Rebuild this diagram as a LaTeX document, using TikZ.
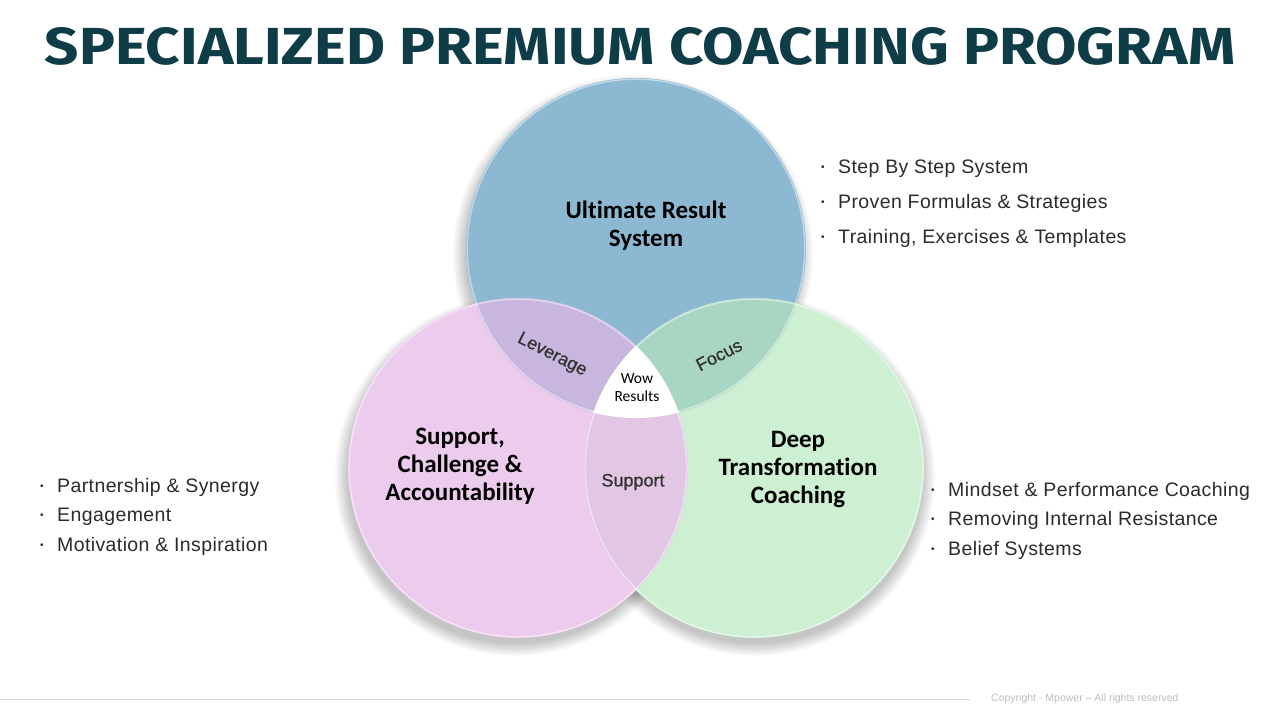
\documentclass[tikz,border=0pt]{standalone}
\usepackage{fontspec}
\usetikzlibrary{calc}
\setmainfont{Liberation Sans}
\newfontfamily\calf{Carlito}[Ligatures=NoCommon]
\newfontfamily\titlef{Fira Sans}
\newfontfamily\bulf{Liberation Sans}[LetterSpace=2]
\newfontfamily\ovf{Liberation Sans}[FakeBold=0.8]
\definecolor{titlecol}{HTML}{0F3D47}
\definecolor{cblue}{HTML}{8DB8D1}
\definecolor{cpink}{HTML}{ECCBEC}
\definecolor{cgreen}{HTML}{CDEFD2}
\definecolor{ovTL}{HTML}{C8B6DF}
\definecolor{ovTR}{HTML}{A8D6C3}
\definecolor{ovLR}{HTML}{E1C7E3}
\definecolor{bultext}{HTML}{2B2B2B}
\definecolor{footcol}{HTML}{BDBDBD}
\newcommand\bu{\makebox[17pt][l]{\raisebox{2.5pt}{\fontsize{10}{10}\selectfont\textbullet}}}
\begin{document}
\begin{tikzpicture}[x=1pt,y=-1pt,
  maintext/.style={align=center,font=\calf\bfseries\fontsize{25}{28}\selectfont,text=black,inner sep=0pt},
  ovtext/.style={font=\ovf\fontsize{18}{20}\selectfont,text=black!80,inner sep=0pt},
  bulline/.style={anchor=base west,inner sep=0pt,font=\bulf\fontsize{19.5}{22}\selectfont,text=bultext},
  rim/.style={draw=white,draw opacity=0.45,line width=1.5pt}]
\useasboundingbox (0,0) rectangle (1280,720);
\fill[white] (0,0) rectangle (1280,720);
\coordinate (cT) at (636,248);
\coordinate (cL) at (518,468);
\coordinate (cR) at (754,468);
\def\R{170pt}
% shadows
\foreach \k in {0,...,9}{
  \fill[black,opacity=0.022] ($(cT)+(-3,7)$) circle ({180pt-1.4pt*\k});
  \fill[black,opacity=0.022] ($(cL)+(-3,8)$) circle ({180pt-1.4pt*\k});
  \fill[black,opacity=0.022] ($(cR)+(1,8)$) circle ({180pt-1.4pt*\k});
}
% circles
\fill[cblue] (cT) circle (\R);
\fill[cpink] (cL) circle (\R);
\fill[cgreen] (cR) circle (\R);
% overlaps
\begin{scope}\clip (cT) circle (\R); \fill[ovTL] (cL) circle (\R); \end{scope}
\begin{scope}\clip (cT) circle (\R); \fill[ovTR] (cR) circle (\R); \end{scope}
\begin{scope}\clip (cL) circle (\R); \fill[ovLR] (cR) circle (\R); \end{scope}
\begin{scope}\clip (cT) circle (\R); \clip (cL) circle (\R); \fill[white] (cR) circle (\R); \end{scope}
% rims
\draw[rim] (cT) circle (168.8pt);
\draw[rim] (cL) circle (168.8pt);
\draw[rim] (cR) circle (168.8pt);
% title
\node[anchor=base,inner sep=0pt,text=titlecol] (title) at (640,64)
  {\resizebox{1190pt}{37pt}{\titlef\bfseries SPECIALIZED PREMIUM COACHING PROGRAM}};
% main labels
\node[maintext] (tT) at (646,226) {Ultimate Result\\System};
\node[maintext] (tL) at (460,466) {Support,\\Challenge \&\\Accountability};
\node[maintext] (tR) at (798,470) {Deep\\Transformation\\Coaching};
% overlap labels
\node[ovtext,rotate=-27] (lev) at (552,355) {Leverage};
\node[ovtext,rotate=27] (foc) at (719,355) {Focus};
\node[ovtext] (sup) at (633,482) {Support};
\node[align=center,inner sep=0pt,font=\calf\fontsize{15.5}{18}\selectfont] (wow) at (637,388) {Wow\\Results};
% bullets top right
\node[bulline] (r1) at (821,173) {\bu Step By Step System};
\node[bulline] (r2) at (821,208) {\bu Proven Formulas \& Strategies};
\node[bulline] (r3) at (821,243) {\bu Training, Exercises \& Templates};
% bullets bottom right
\node[bulline] (s1) at (931,496) {\bu Mindset \& Performance Coaching};
\node[bulline] (s2) at (931,525) {\bu Removing Internal Resistance};
\node[bulline] (s3) at (931,555) {\bu Belief Systems};
% bullets left
\node[bulline] (l1) at (40,492) {\bu Partnership \& Synergy};
\node[bulline] (l2) at (40,521) {\bu Engagement};
\node[bulline] (l3) at (40,551) {\bu Motivation \& Inspiration};
% footer
\coordinate (f1) at (0,699);
\coordinate (f2) at (970,699);
\draw[footcol!60,line width=0.8pt] (f1) -- (f2);
\node[anchor=west,inner sep=0pt,text=footcol,font=\fontsize{10.5}{12}\selectfont] (foot) at (991,699) {Copyright - Mpower -- All rights reserved};
\end{tikzpicture}
\end{document}
